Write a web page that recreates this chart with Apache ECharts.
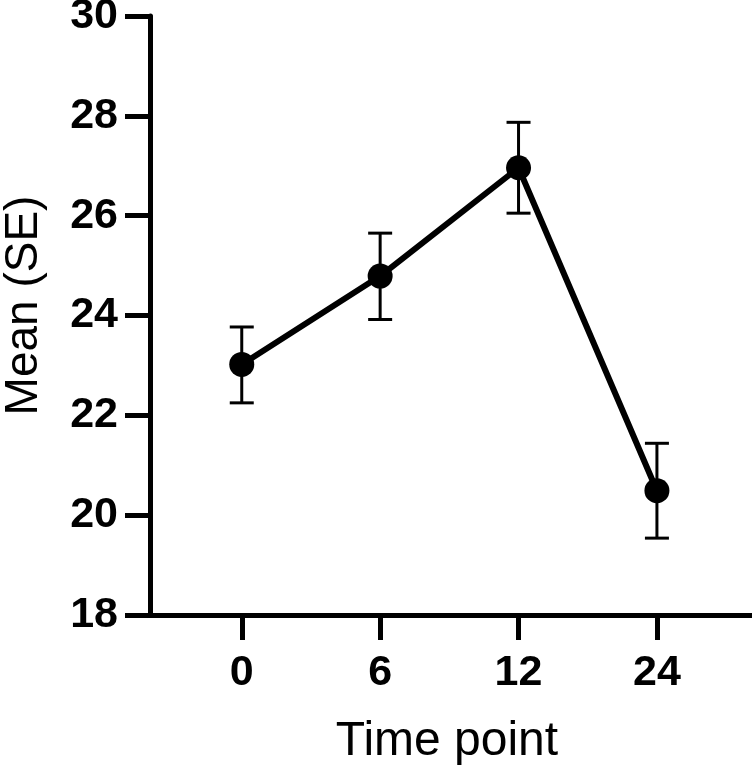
<!DOCTYPE html>
<html>
<head>
<meta charset="utf-8">
<script src="https://cdn.jsdelivr.net/npm/echarts@6/dist/echarts.min.js"></script>
<style>
  html, body { margin: 0; padding: 0; background: #fff; }
  #chart { width: 752px; height: 772px; }
</style>
</head>
<body>
<div id="chart"></div>
<script>
// time points (h) and mean with SE bounds
const categories = ['0', '6', '12', '24']
const means = [23.02, 24.79, 26.96, 20.49]
const lower = [22.25, 23.92, 26.05, 19.54]
const upper = [23.77, 25.65, 27.87, 21.44]
const yTicks = [18, 20, 22, 24, 26, 28, 30]

const font = '"Liberation Sans", Arial, Helvetica, sans-serif'
const idx = categories.map((c, i) => i)

const chart = echarts.init(document.getElementById('chart'))

const errData = idx.map(i => [i, lower[i], upper[i]])

const option = {
    animation: false,
    backgroundColor: '#fff',
    grid: {
        left: 150,
        right: 0,
        top: 16,
        bottom: 157,
        outerBoundsMode: 'none'
    },
    xAxis: {
        type: 'value',
        min: -0.663,
        max: 3.687,
        name: 'Time point',
        nameLocation: 'middle',
        nameGap: 103,
        nameTextStyle: { fontFamily: font, fontSize: 48, color: '#000', padding: [0, 8, 0, 0] },
        axisLine: { onZero: false, lineStyle: { color: '#000', width: 5 } },
        axisTick: {
            customValues: idx,
            length: 25,
            lineStyle: { color: '#000', width: 5 }
        },
        axisLabel: {
            customValues: idx,
            formatter: v => categories[Math.round(v)],
            margin: 37,
            fontFamily: font,
            fontSize: 43,
            fontWeight: 'bold',
            color: '#000'
        },
        splitLine: { show: false }
    },
    yAxis: {
        type: 'value',
        min: yTicks[0],
        max: yTicks[yTicks.length - 1],
        interval: 2,
        name: 'Mean (SE)',
        nameLocation: 'middle',
        nameGap: 103,
        nameTextStyle: { fontFamily: font, fontSize: 46, color: '#000', padding: [0, 0, 0, 20] },
        axisLine: { show: true, onZero: false, lineStyle: { color: '#000', width: 5 } },
        axisTick: { show: true, length: 25, lineStyle: { color: '#000', width: 5 } },
        axisLabel: {
            margin: 32,
            fontFamily: font,
            fontSize: 43,
            fontWeight: 'bold',
            color: '#000'
        },
        splitLine: { show: false }
    },
    series: [
        {
            type: 'custom',
            data: errData,
            z: 3,
            renderItem: (params, api) => {
                const x = api.value(0)
                const lo = api.coord([x, api.value(1)])
                const hi = api.coord([x, api.value(2)])
                const half = 12
                const style = { stroke: '#000', lineWidth: 3 }
                return {
                    type: 'group',
                    children: [
                        { type: 'line', shape: { x1: lo[0], y1: lo[1], x2: hi[0], y2: hi[1] }, style },
                        { type: 'line', shape: { x1: lo[0] - half, y1: lo[1], x2: lo[0] + half, y2: lo[1] }, style },
                        { type: 'line', shape: { x1: hi[0] - half, y1: hi[1], x2: hi[0] + half, y2: hi[1] }, style }
                    ]
                }
            }
        },
        {
            type: 'line',
            data: idx.map(i => [i, means[i]]),
            z: 4,
            symbol: 'circle',
            symbolSize: 25,
            lineStyle: { color: '#000', width: 6 },
            itemStyle: { color: '#000' }
        }
    ]
}

chart.setOption(option)
</script>
</body>
</html>
